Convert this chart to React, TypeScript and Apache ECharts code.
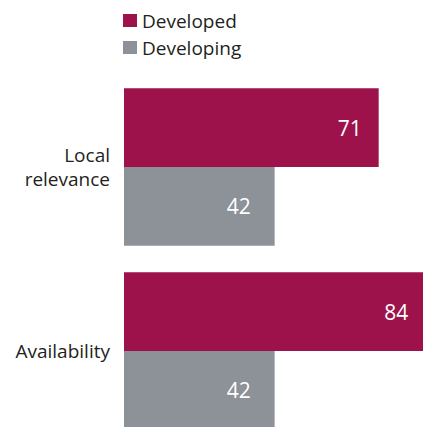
import React, { useEffect, useRef } from "react";
import * as echarts from "echarts";

const categories = ["Local relevance", "Availability"];
const developed = [71, 84];
const developing = [42, 42];
const seriesNames = ["Developed", "Developing"];

const FONT = "'Open Sans', 'Noto Sans', sans-serif";

export default function App() {
  const ref = useRef<HTMLDivElement>(null);
  useEffect(() => {
    if (!ref.current) return;
    const chart = echarts.init(ref.current, null, { renderer: "svg" });
    chart.setOption({
      animation: false,
      textStyle: { fontFamily: FONT },
      legend: {
        orient: "vertical",
        left: 118,
        top: 6,
        itemWidth: 14,
        itemHeight: 13,
        itemGap: 8,
        icon: "rect",
        textStyle: { fontSize: 19, color: "#231F20", fontFamily: FONT },
        data: seriesNames,
      },
      grid: { left: 124, top: 75, width: 358.7, height: 368, containLabel: false },
      xAxis: {
        type: "value",
        min: 0,
        max: 100,
        show: false,
      },
      yAxis: {
        type: "category",
        inverse: true,
        data: categories,
        axisLine: { show: false },
        axisTick: { show: false },
        splitLine: { show: false },
        axisLabel: {
          margin: 14,
          fontSize: 19,
          lineHeight: 24,
          color: "#231F20",
          fontFamily: FONT,
          align: "right",
          formatter: (v: string) => v.replace(" ", "\n"),
        },
      },
      series: [
        {
          name: seriesNames[0],
          type: "bar",
          data: developed,
          barGap: "0%",
          barCategoryGap: "14.5%",
          itemStyle: { color: "#9D124B" },
          label: {
            show: true,
            position: "insideRight",
            distance: 17,
            color: "#FFFFFF",
            fontSize: 21,
            fontFamily: FONT,
          },
        },
        {
          name: seriesNames[1],
          type: "bar",
          data: developing,
          barGap: "0%",
          barCategoryGap: "14.5%",
          itemStyle: { color: "#8D9198" },
          label: {
            show: true,
            position: "insideRight",
            distance: 24,
            color: "#FFFFFF",
            fontSize: 21,
            fontFamily: FONT,
          },
        },
      ],
    });
    return () => chart.dispose();
  }, []);
  return (
    <div
      style={{
        position: "fixed",
        left: 0,
        top: 0,
        width: 423,
        height: 427,
        overflow: "hidden",
        background: "#fff",
      }}
    >
      <div ref={ref} style={{ width: 500, height: 460 }} />
    </div>
  );
}
